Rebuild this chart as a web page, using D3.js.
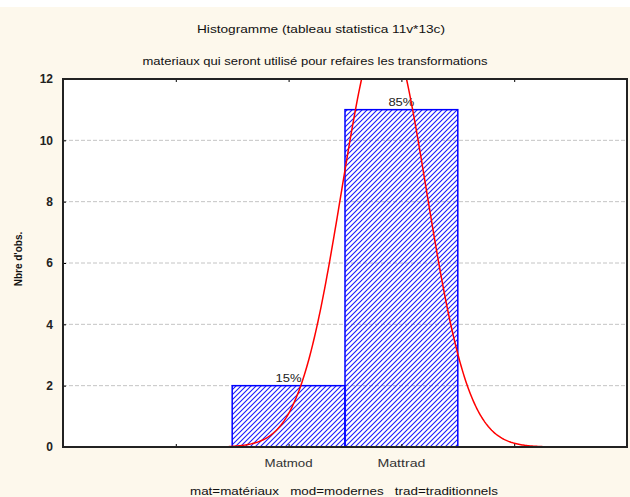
<!DOCTYPE html>
<html>
<head>
<meta charset="utf-8">
<script src="https://cdn.jsdelivr.net/npm/d3@7"></script>
<style>
  body { margin: 0; background: #fdf8ec; }
  text { font-family: "Liberation Sans", Arial, sans-serif; }
</style>
</head>
<body>
<div id="chart"></div>
<script>
// data
var categories = ["Matmod", "Mattrad"];
var binPos = [2, 3];          // bin centres on the x scale
var counts = [2, 11];
var percents = ["15%", "85%"];
var yTicks = [0, 2, 4, 6, 8, 10, 12];
var xTicks = [1, 2, 3, 4];
var curveRange = [1.47, 4.26];

var W = 630, H = 497;
var margin = {top: 79, right: 3, bottom: 50, left: 63},
    width = W - margin.left - margin.right,
    height = H - margin.top - margin.bottom;

var svg = d3.select("#chart").append("svg")
  .attr("width", W).attr("height", H);

svg.append("rect").attr("width", W).attr("height", H).attr("fill", "#fdf8ec");
svg.append("rect").attr("width", W).attr("height", 7).attr("fill", "#ffffff");

var defs = svg.append("defs");
defs.append("pattern")
  .attr("id", "hatch")
  .attr("patternUnits", "userSpaceOnUse")
  .attr("width", 5).attr("height", 5)
  .append("path")
  .attr("d", "M0,5 L5,0 M-1,1 L1,-1 M4,6 L6,4")
  .attr("stroke", "#1a1aff").attr("stroke-width", 1.1);
defs.append("clipPath").attr("id", "clip")
  .append("rect").attr("width", width).attr("height", height);

// stretched text like the original export
function label(sel, len) {
  return sel.attr("textLength", len).attr("lengthAdjust", "spacingAndGlyphs");
}

// titles
label(svg.append("text").attr("x", 321).attr("y", 33)
  .attr("text-anchor", "middle").style("font-size", "11px").attr("fill", "#111")
  .text("Histogramme (tableau statistica 11v*13c)"), 248);
label(svg.append("text").attr("x", 315).attr("y", 65)
  .attr("text-anchor", "middle").style("font-size", "11px").attr("fill", "#111")
  .text("materiaux qui seront utilisé pour refaires les transformations"), 345);

var g = svg.append("g")
  .attr("transform", "translate(" + margin.left + "," + margin.top + ")");

g.append("rect").attr("width", width).attr("height", height).attr("fill", "#ffffff");

var x = d3.scaleLinear().domain([0, 5]).range([0, width]);
var y = d3.scaleLinear().domain([0, 12]).range([height, 0]);

// grid
g.selectAll(".grid")
  .data(yTicks.filter(function(d) { return d > 0 && d < 12; }))
  .enter().append("line")
  .attr("x1", 0).attr("x2", width)
  .attr("y1", function(d) { return y(d); })
  .attr("y2", function(d) { return y(d); })
  .attr("stroke", "#c4c4c4").attr("stroke-width", 1)
  .attr("stroke-dasharray", "4,2");

// bars
g.selectAll(".bar")
  .data(counts)
  .enter().append("rect")
  .attr("x", function(d, i) { return x(binPos[i] - 0.5); })
  .attr("y", function(d) { return y(d); })
  .attr("width", x(1) - x(0))
  .attr("height", function(d) { return y(0) - y(d); })
  .attr("fill", "url(#hatch)")
  .attr("stroke", "#0000ff").attr("stroke-width", 1.5);

// percent labels
g.selectAll(".pct")
  .data(percents)
  .enter().append("text")
  .attr("x", function(d, i) { return x(binPos[i]); })
  .attr("y", function(d, i) { return y(counts[i]) - 4; })
  .attr("text-anchor", "middle").style("font-size", "11px").attr("fill", "#222")
  .attr("textLength", 26).attr("lengthAdjust", "spacingAndGlyphs")
  .text(function(d) { return d; });

// fitted normal curve
var n = d3.sum(counts);
var mean = d3.sum(counts, function(d, i) { return d * binPos[i]; }) / n;
var variance = d3.sum(counts, function(d, i) { return d * Math.pow(binPos[i] - mean, 2); }) / (n - 1);
var sd = Math.sqrt(variance);
var curveX = d3.range(curveRange[0], curveRange[1], 0.01);
var line = d3.line()
  .x(function(d) { return x(d); })
  .y(function(d) { return y(n * Math.exp(-0.5 * Math.pow((d - mean) / sd, 2)) / (sd * Math.sqrt(2 * Math.PI))); });
g.append("path").datum(curveX)
  .attr("clip-path", "url(#clip)")
  .attr("d", line)
  .attr("fill", "none").attr("stroke", "#ff0000").attr("stroke-width", 1.5);

// axes with inward ticks
g.append("g")
  .attr("transform", "translate(0," + height + ")")
  .call(d3.axisBottom(x).tickValues(xTicks).tickSize(-3).tickFormat(""))
  .call(function(s) { s.select(".domain").remove(); });
g.append("g")
  .call(d3.axisTop(x).tickValues(xTicks).tickSize(-3).tickFormat(""))
  .call(function(s) { s.select(".domain").remove(); });
g.append("g")
  .call(d3.axisLeft(y).tickValues(yTicks).tickSize(-3).tickPadding(10))
  .call(function(s) {
    s.select(".domain").remove();
    s.selectAll("text").style("font-size", "12px").style("font-weight", "bold").attr("fill", "#222");
  });

// category labels
g.selectAll(".cat")
  .data(categories)
  .enter().append("text")
  .attr("x", function(d, i) { return x(binPos[i]); })
  .attr("y", height + 20)
  .attr("text-anchor", "middle").style("font-size", "11px").attr("fill", "#333")
  .attr("textLength", 48).attr("lengthAdjust", "spacingAndGlyphs")
  .text(function(d) { return d; });

// frame
g.append("rect").attr("width", width).attr("height", height)
  .attr("fill", "none").attr("stroke", "#222").attr("stroke-width", 2);

// y label
svg.append("text")
  .attr("transform", "translate(22,259) rotate(-90)")
  .attr("text-anchor", "middle").style("font-size", "10px").style("font-weight", "bold")
  .attr("fill", "#111")
  .text("Nbre d'obs.");

// footer
label(svg.append("text").attr("x", 344).attr("y", 495)
  .attr("text-anchor", "middle").style("font-size", "11px").attr("fill", "#111")
  .attr("xml:space", "preserve").style("white-space", "pre")
  .text("mat=matériaux   mod=modernes   trad=traditionnels"), 308);
</script>
</body>
</html>
